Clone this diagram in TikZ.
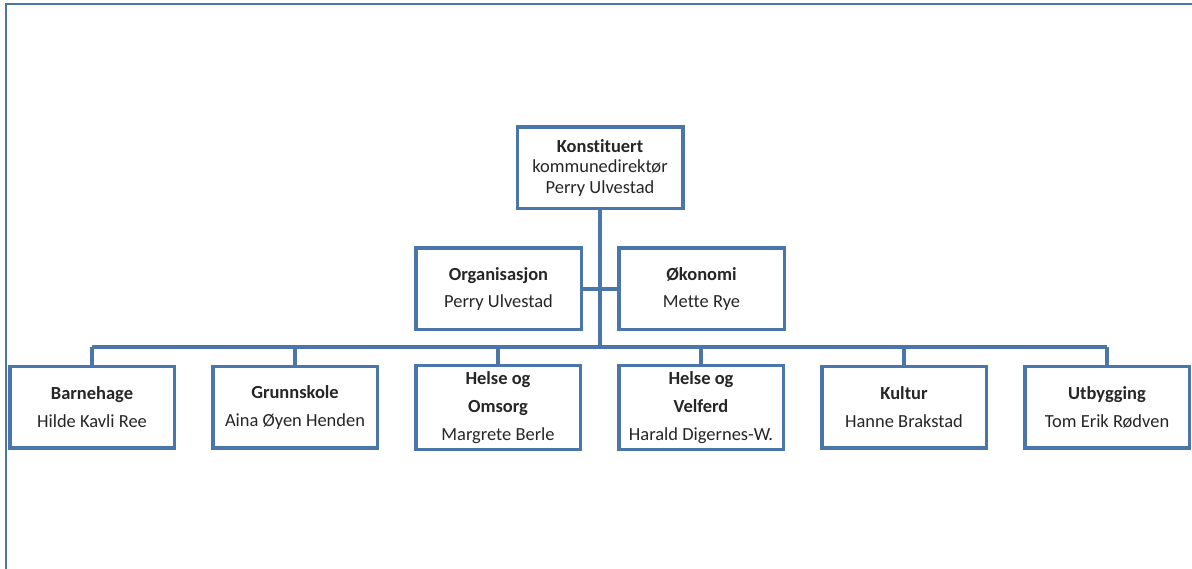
\documentclass[tikz,border=0pt]{standalone}
\usepackage{fontspec}
\setmainfont{Carlito}[Ligatures={NoCommon}]
\usepackage{xcolor}
\usepackage{tikz}
\usetikzlibrary{positioning}

\definecolor{orgblue}{RGB}{74,118,170}

\begin{document}
\begin{tikzpicture}[
    node distance=0.7cm,
    box/.style={rectangle, draw=orgblue, fill=white, line width=0.07cm, minimum width=3.29cm, minimum height=1.63cm, align=center, text=black!85},
    chief/.style={box, font=\fontsize{10.5}{11.4}\selectfont},
    unit/.style={box, font=\fontsize{10.5}{15.9}\selectfont},
    link/.style={draw=orgblue, line width=0.07cm}
]
\useasboundingbox (0,0) rectangle (23.84,-11.38);

% frame
\draw[orgblue, line width=0.05cm] (0.12,-11.38) -- (0.12,-0.08) -- (23.84,-0.08);

% top
\node[chief, minimum width=3.31cm] (chief) at (12,-3.36) {\textbf{Konstituert}\\kommunedirektør\\Perry Ulvestad};

% staff
\node[unit, minimum width=3.31cm, below=0.72cm of chief, xshift=-2.03cm] (org) {\textbf{Organisasjon}\\Perry Ulvestad};
\node[unit, minimum width=3.31cm, right=0.68cm of org] (okon) {\textbf{Økonomi}\\Mette Rye};

% units
\node[unit] (barn) at (1.84,-8.15) {\textbf{Barnehage}\\Hilde Kavli Ree};
\node[unit, right=of barn] (skole) {\textbf{Grunnskole}\\Aina Øyen Henden};
\node[unit, right=of skole] (omsorg) {\textbf{Helse og}\\\textbf{Omsorg}\\Margrete Berle};
\node[unit, right=of omsorg] (velferd) {\textbf{Helse og}\\\textbf{Velferd}\\Harald Digernes-W.};
\node[unit, right=of velferd] (kultur) {\textbf{Kultur}\\Hanne Brakstad};
\node[unit, right=of kultur] (utb) {\textbf{Utbygging}\\Tom Erik Rødven};

% connectors
\coordinate (bus) at (0,-6.94);
\draw[link] (chief.south) -- (chief.south |- bus);
\draw[link] (org.east) -- (okon.west);
\draw[link] (barn.north |- bus) -- (utb.north |- bus);
\foreach \n in {barn, skole, omsorg, velferd, kultur, utb}
    \draw[link] (\n.north |- bus) -- (\n.north);

\end{tikzpicture}
\end{document}
